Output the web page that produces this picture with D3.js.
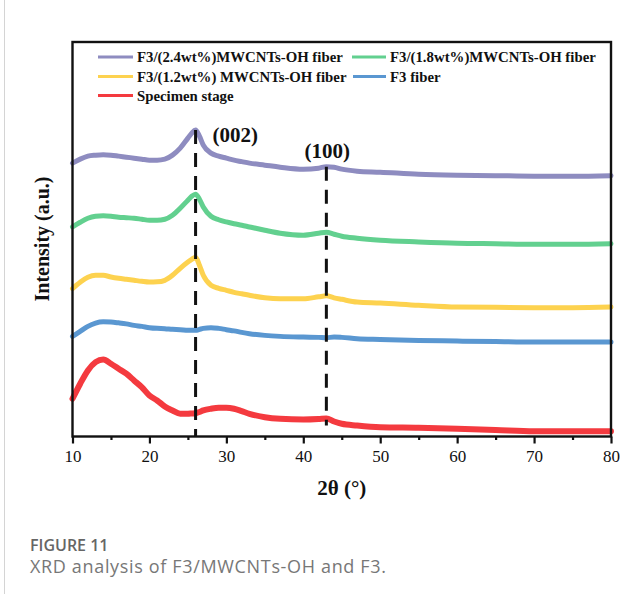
<!DOCTYPE html>
<html><head><meta charset="utf-8">
<script src="https://cdn.jsdelivr.net/npm/d3@7"></script>
<style>
html,body{margin:0;padding:0;background:#fff;}
svg{display:block;}
</style></head>
<body>
<svg id="chart" width="639" height="594"></svg>
<script>
// ---- data (intensity in arbitrary units) ----
const twoTheta = [10,11,12,13,14,15,16,17,18,19,20,21,22,23,24,25,25.5,26,26.5,27,28,29,30,31,32,33,35,37,40,42,43,44,45,47,50,55,60,65,70,75,80];
const mw24 = [273,277,280,281,281.5,281,280,279,278,277,276,276,277,281,288,298,303,306,300,291,283,280,278,276,274.5,273,271,269,267,268,269.5,269,267,265,264,262,261,260.5,260,260,260.5];
const mw18 = [209.3,214,218,220,220.5,220,219,218.5,218,217,216,216,217,221,228,236,240,242,237,229.3,220,216.5,214.3,212.5,211,209.3,206,203,201,203,204,202,200,198,196,194.3,193,192.5,192,192,192.5];
const mw12 = [147.7,154,159,161,161,159.3,158,157,156,155,154.3,154.5,156,161,168,174.3,177,179,171,161,151,148,146,144,142.5,141,138.5,137.5,137.5,139.5,140.5,138.5,137,134.3,133.3,131,129.3,129,128.7,128.7,129.3];
const f3 = [100,105,110,113.3,114.5,114.3,113.5,112.5,111,110,108.7,108,107.7,107,106.7,106,106,106,107,108,108.7,108,106.7,105.5,104,102.7,101,100,99.3,99,98.7,99.3,99,97.7,97,96,95.3,94.8,94.3,94.3,94.3];
const stage = [37.7,52.7,66,74.3,77,72.7,67.7,62.7,56,49.3,41,36,30,26,22.7,22.7,23,23.3,24.5,26,27.7,28.7,28.7,27.7,25.3,22.7,19.3,17.7,17,17.5,18,15,12.7,11,9.3,8.7,7.7,6.5,5.3,5.3,5.3];
const seriesNames = ["F3/(2.4wt%)MWCNTs-OH fiber","F3/(1.8wt%)MWCNTs-OH fiber","F3/(1.2wt%) MWCNTs-OH fiber","F3 fiber","Specimen stage"];
const seriesColors = ["#8e8cc0","#62d08f","#fdd24f","#5a97d1","#f43a3f"];
const seriesValues = [mw24, mw18, mw12, f3, stage];
const xTicks = [10,20,30,40,50,60,70,80];
const peakPos = [26, 43];
const peakLabels = ["(002)","(100)"];
const peakTop = [306, 269.5];   // intensity where each dashed guide starts
const peakBottom = [0, 11];

// ---- layout ----
const svg = d3.select("#chart");
const L = 72.5, R = 611, T = 42, B = 436.5;
const x = d3.scaleLinear().domain([10,80]).range([L,R]);
const y = d3.scaleLinear().domain([0,394]).range([B,T]);
const serif = "'Liberation Serif','Times New Roman',serif";

// card edge
svg.append("line").attr("x1",4.5).attr("x2",4.5).attr("y1",0).attr("y2",594)
  .attr("stroke","#d4d4d4").attr("stroke-width",1);

// curves
const line = d3.line().x((d,i)=>x(twoTheta[i])).y(d=>y(d)).curve(d3.curveMonotoneX);
seriesValues.forEach((vals,k)=>{
  svg.append("path").datum(vals).attr("d",line)
    .attr("fill","none").attr("stroke",seriesColors[k])
    .attr("stroke-width", k===4 ? 6 : 5).attr("stroke-linejoin","round").attr("stroke-linecap","round");
});

// dashed guides
peakPos.forEach((p,i)=>{
  svg.append("line").attr("x1",x(p)).attr("x2",x(p))
    .attr("y1",y(peakTop[i])).attr("y2",y(peakBottom[i]))
    .attr("stroke","#111").attr("stroke-width",3).attr("stroke-dasharray","14,9");
});
svg.append("text").attr("x",x(26)+17).attr("y",y(306)+12).text(peakLabels[0])
  .attr("font-family",serif).attr("font-weight","bold").attr("font-size",21).attr("fill","#111");
svg.append("text").attr("x",x(43)+1).attr("y",y(269.5)-9).attr("text-anchor","middle").text(peakLabels[1])
  .attr("font-family",serif).attr("font-weight","bold").attr("font-size",21).attr("fill","#111");

// frame
svg.append("rect").attr("x",L).attr("y",T).attr("width",R-L).attr("height",B-T)
  .attr("fill","none").attr("stroke","#111").attr("stroke-width",2.4);

// x axis
const xAxis = d3.axisBottom(x).tickValues(xTicks).tickSize(7).tickPadding(6).tickFormat(d3.format("d"));
const gx = svg.append("g").attr("transform",`translate(0,${B})`).call(xAxis);
gx.select(".domain").remove();
gx.selectAll(".tick line").attr("stroke","#111").attr("stroke-width",2.2);
gx.selectAll(".tick text").attr("font-family",serif).attr("font-size",17).attr("fill","#111");
const gxm = svg.append("g").attr("transform",`translate(0,${B})`)
  .call(d3.axisBottom(x).tickValues([15,25,35,45,55,65,75]).tickSize(3.5).tickFormat(""));
gxm.select(".domain").remove();
gxm.selectAll(".tick line").attr("stroke","#111").attr("stroke-width",2.2);

// axis titles
svg.append("text").attr("x",(L+R)/2).attr("y",495).attr("text-anchor","middle")
  .attr("font-family",serif).attr("font-weight","bold").attr("font-size",21).attr("fill","#111").text("2θ (°)");
svg.append("text").attr("transform","translate(49,239) rotate(-90)").attr("text-anchor","middle")
  .attr("font-family",serif).attr("font-weight","bold").attr("font-size",20).attr("fill","#111").text("Intensity (a.u.)");

// legend
const legPos = [[98,57],[352,57],[98,76.5],[353,76.5],[98,95.5]];
seriesNames.forEach((n,k)=>{
  const [lx,ly] = legPos[k];
  const lineEnd = k===1||k===3 ? 386 : 133;
  svg.append("line").attr("x1",lx).attr("x2",lineEnd).attr("y1",ly).attr("y2",ly)
    .attr("stroke",seriesColors[k]).attr("stroke-width",3);
  svg.append("text").attr("x",lineEnd+4).attr("y",ly+5).text(n)
    .attr("font-family",serif).attr("font-weight","bold").attr("font-size",14.8).attr("fill","#111");
});

// caption
svg.append("text").attr("x",30).attr("y",551).text("FIGURE 11")
  .attr("font-family","'Open Sans','Noto Sans',sans-serif").attr("font-weight",600).attr("font-size",16).attr("fill","#666");
svg.append("text").attr("x",30).attr("y",573).text("XRD analysis of F3/MWCNTs-OH and F3.")
  .attr("font-family","'Open Sans','Noto Sans',sans-serif").attr("font-weight",400).attr("font-size",18)
  .attr("textLength",356).attr("lengthAdjust","spacing").attr("fill","#777");
</script>
</body></html>
